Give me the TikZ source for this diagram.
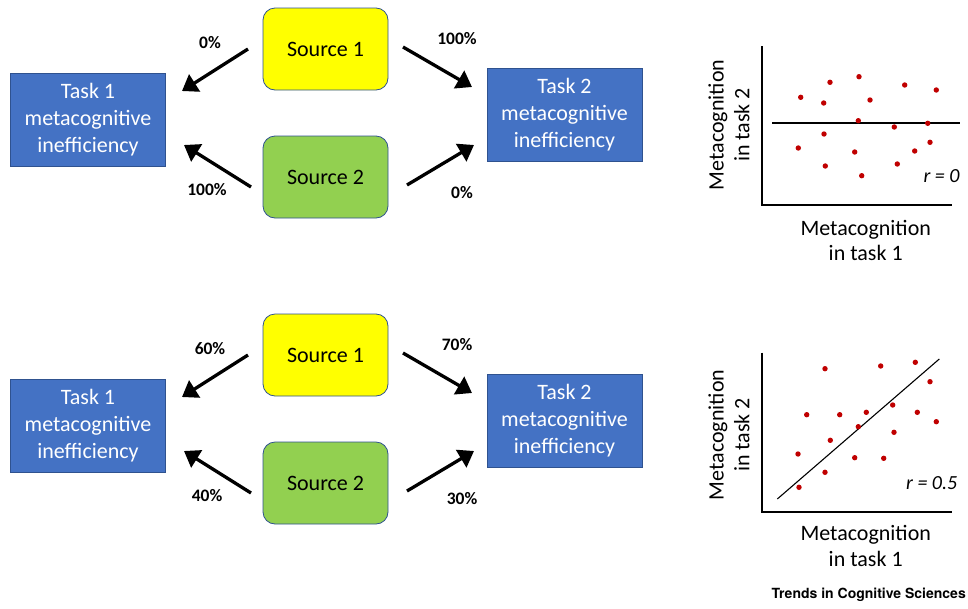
\documentclass[tikz,border=0pt]{standalone}
\usepackage{fontspec}
\setmainfont{Carlito}
\newfontfamily\herosfont{TeX Gyre Heros}
\usetikzlibrary{arrows.meta}
\definecolor{taskblue}{HTML}{4472C4}
\definecolor{taskedge}{HTML}{2F528F}
\definecolor{srcyellow}{HTML}{FFFF00}
\definecolor{srcgreen}{HTML}{92D050}
\definecolor{dotred}{HTML}{C00000}
\begin{document}
\begin{tikzpicture}[x=1pt,y=-1pt,
  taskbox/.style={draw=taskedge, line width=0.8pt, fill=taskblue, text=white, align=center,
    font=\fontsize{22}{27}\selectfont, inner sep=0pt, minimum width=155pt, minimum height=93pt},
  srcbox/.style={draw=taskedge, line width=0.8pt, rounded corners=12pt, align=center,
    font=\fontsize{22}{27}\selectfont, inner sep=0pt, minimum width=125pt, minimum height=82pt},
  bigarrow/.style={line width=3.3pt, -{Triangle[length=15pt,width=20pt]}},
  pct/.style={font=\bfseries\fontsize{17.5}{20}\selectfont, inner sep=0pt},
  axis/.style={line width=2pt},
  fitline/.style={line width=1.1pt},
  axlabel/.style={align=center, font=\fontsize{22}{25.7}\selectfont, inner sep=0pt},
  rlabel/.style={font=\itshape\fontsize{20}{24}\selectfont, inner sep=0pt},
  dot/.style={fill=dotred, draw=none}
]
\useasboundingbox (0,0) rectangle (968,608);

% ---------- top panel ----------
\node[taskbox] (t1a) at (88,119.5) {Task 1\\metacognitive\\inefficiency};
\node[taskbox] (t2a) at (564.5,114.5) {Task 2\\metacognitive\\inefficiency};
\node[srcbox, fill=srcyellow] (s1a) at (325.5,49) {Source 1};
\node[srcbox, fill=srcgreen] (s2a) at (325.5,177) {Source 2};
\coordinate (a1s) at (248,49);  \coordinate (a1e) at (182,91);
\coordinate (a2s) at (251,187); \coordinate (a2e) at (184,145);
\coordinate (a3s) at (403,47);  \coordinate (a3e) at (472,87);
\coordinate (a4s) at (407,185); \coordinate (a4e) at (474,145);
\draw[bigarrow] (a1s) -- (a1e);
\draw[bigarrow] (a2s) -- (a2e);
\draw[bigarrow] (a3s) -- (a3e);
\draw[bigarrow] (a4s) -- (a4e);
\node[pct] (p1a) at (210,43) {0\%};
\node[pct] (p2a) at (207,190) {100\%};
\node[pct] (p3a) at (457,39) {100\%};
\node[pct] (p4a) at (462,193) {0\%};

% ---------- bottom panel ----------
\node[taskbox] (t1b) at (88,425.5) {Task 1\\metacognitive\\inefficiency};
\node[taskbox] (t2b) at (564.5,420.5) {Task 2\\metacognitive\\inefficiency};
\node[srcbox, fill=srcyellow] (s1b) at (325.5,355) {Source 1};
\node[srcbox, fill=srcgreen] (s2b) at (325.5,483) {Source 2};
\coordinate (b1s) at (248,355); \coordinate (b1e) at (182,397);
\coordinate (b2s) at (251,493); \coordinate (b2e) at (184,451);
\coordinate (b3s) at (403,353); \coordinate (b3e) at (472,393);
\coordinate (b4s) at (407,491); \coordinate (b4e) at (474,451);
\draw[bigarrow] (b1s) -- (b1e);
\draw[bigarrow] (b2s) -- (b2e);
\draw[bigarrow] (b3s) -- (b3e);
\draw[bigarrow] (b4s) -- (b4e);
\node[pct] (p1b) at (210,349) {60\%};
\node[pct] (p2b) at (207,496) {40\%};
\node[pct] (p3b) at (457,345) {70\%};
\node[pct] (p4b) at (462,499) {30\%};

% ---------- top scatter ----------
\coordinate (ya) at (762,46); \coordinate (oa) at (762,205); \coordinate (xa) at (952,205);
\draw[axis] (ya) -- (oa) -- (xa);
\coordinate (la1) at (772,123); \coordinate (la2) at (960,123);
\draw[fitline] (la1) -- (la2);
\foreach \px/\py in {800.7/97.3, 830/82.3, 859/76.7, 904.7/85, 936.3/90, 823.7/103, 870/100,
  858.3/120.7, 894.3/127, 927.7/123.3, 824/134, 798.3/148, 854.7/152, 914.7/151, 930/142.3,
  825.3/166, 897.3/164, 861.7/175.7}
  \fill[dot] (\px,\py) circle (2.7);
\node[rlabel] (ra) at (941.5,176) {r = 0};
\node[axlabel, rotate=90] (yla) at (729,125) {Metacognition\\in task 2};
\node[axlabel] (xla) at (865.7,240.5) {Metacognition\\in task 1};

% ---------- bottom scatter ----------
\coordinate (yb) at (762,352.7); \coordinate (ob) at (762,511.7); \coordinate (xb) at (952,511.7);
\draw[axis] (yb) -- (ob) -- (xb);
\coordinate (lb1) at (777.3,499); \coordinate (lb2) at (939.3,359);
\draw[fitline] (lb1) -- (lb2);
\foreach \px/\py in {825/368.7, 880.7/366, 915.3/362.3, 930/381.7, 806.7/414.7, 839.7/414.7,
  866.3/412.3, 892.7/405, 917.3/412.3, 936.3/421.7, 858.3/426.7, 830.3/440.3, 894/432.3,
  798/454, 854.7/457.7, 883.7/458.3, 825/472.3, 799/487.3}
  \fill[dot] (\px,\py) circle (2.7);
\node[rlabel] (rb) at (931.7,482.7) {r = 0.5};
\node[axlabel, rotate=90] (ylb) at (729,435) {Metacognition\\in task 2};
\node[axlabel] (xlb) at (865.7,546.2) {Metacognition\\in task 1};

% ---------- credit ----------
\node[anchor=east, inner sep=0pt, font=\herosfont\bfseries\fontsize{14}{16}\selectfont] (credit) at (966,595) {Trends in Cognitive Sciences};
\end{tikzpicture}
\end{document}
